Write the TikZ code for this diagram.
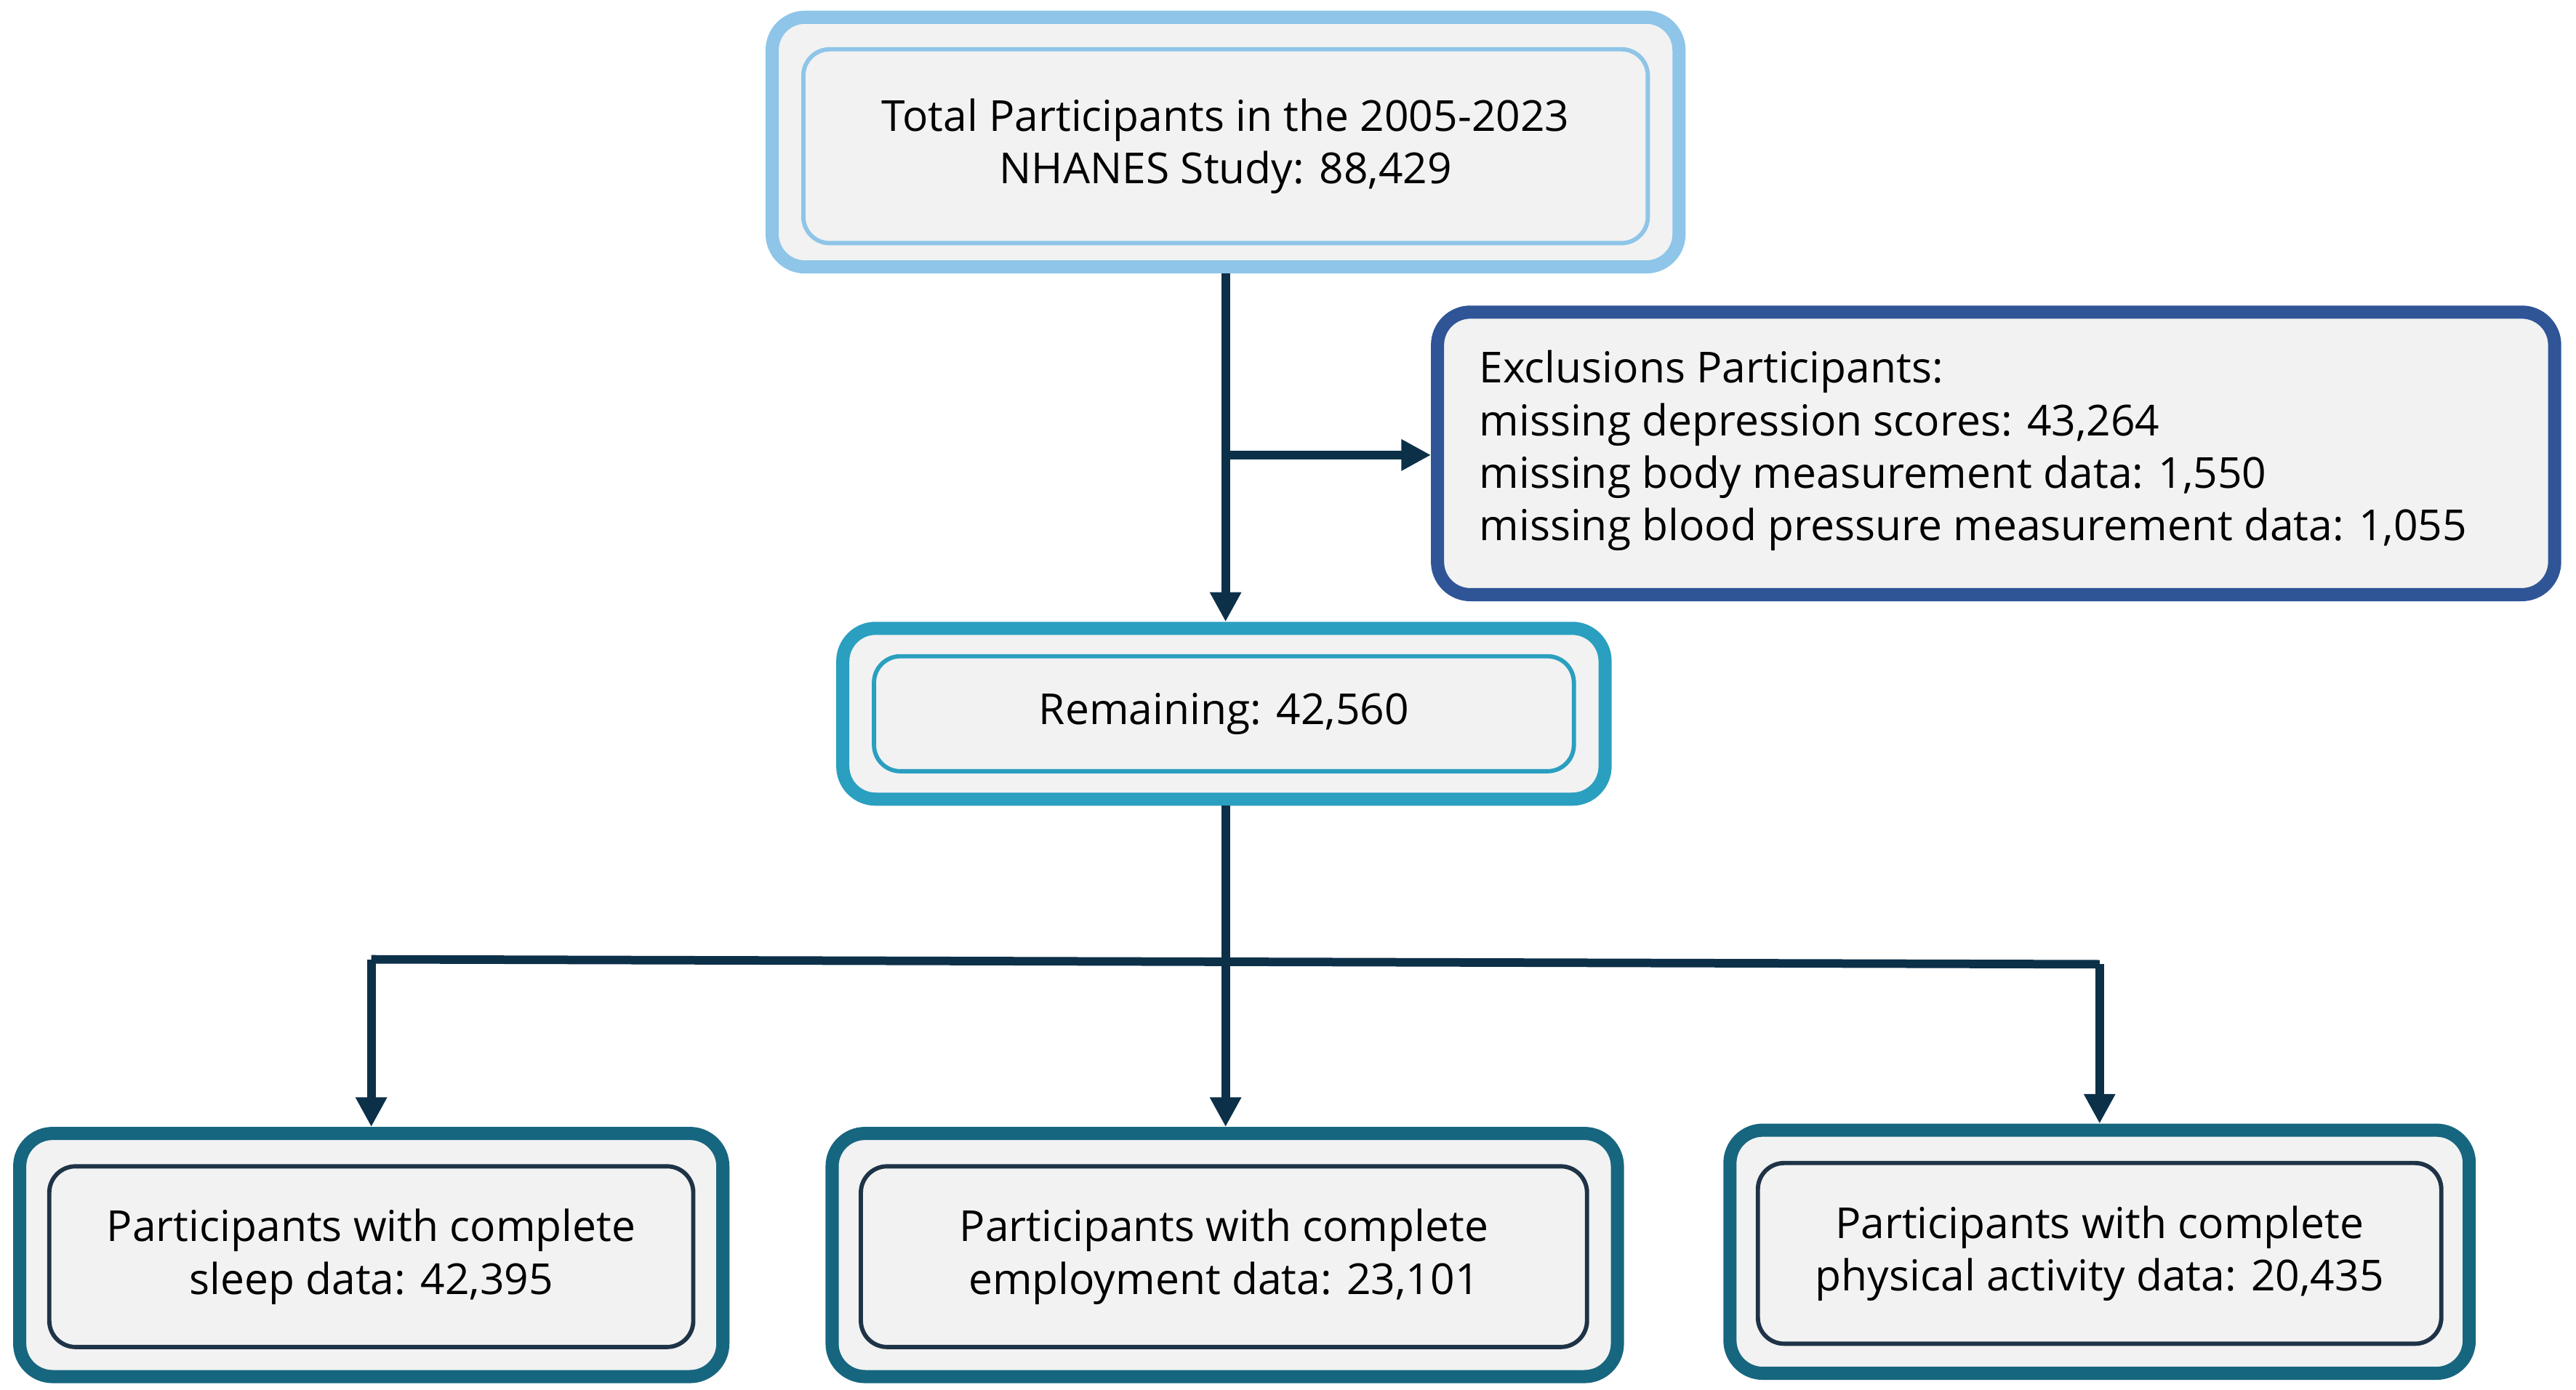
\documentclass[tikz,border=0pt]{standalone}
\usepackage{fontspec}
\setmainfont{Open Sans}
\usetikzlibrary{arrows.meta}
\definecolor{bgray}{HTML}{F2F2F2}
\definecolor{lblue}{HTML}{8EC5E8}
\definecolor{dblue}{HTML}{2F5597}
\definecolor{teal1}{HTML}{2A9FC0}
\definecolor{teal2}{HTML}{17667F}
\definecolor{navy}{HTML}{1F3347}
\definecolor{arr}{HTML}{0D3049}
\tikzset{
 outerbox/.style={draw=#1, line width=4pt, fill=bgray, rounded corners=10pt, inner sep=0pt},
 innerbox/.style={draw=#1, line width=1.3pt, fill=bgray, rounded corners=8pt, align=center, inner sep=0pt, font=\fontsize{13}{16}\selectfont},
 conn/.style={draw=arr, line width=2.6pt},
 tip/.style={conn, -{Triangle[length=9pt,width=9pt]}}
}
\begin{document}
\begin{tikzpicture}[x=0.5pt,y=-0.5pt]
\useasboundingbox (0,0) rectangle (1568,846);
% top
\node[outerbox=lblue, minimum width=276pt, minimum height=76pt] (t) at (746,86.5) {};
\node[innerbox=lblue, minimum width=257pt, minimum height=59pt] (ti) at (746,89) {Total Participants in the 2005-2023\\NHANES Study: 88,429};
% exclusion
\node[outerbox=dblue, minimum width=340pt, minimum height=86pt, align=left, font=\fontsize{13}{16}\selectfont, anchor=center] (e) at (1215,276) {};
\node[anchor=north west, align=left, font=\fontsize{13}{16}\selectfont, inner sep=0pt] (et) at (900,213) {Exclusions Participants:\\missing depression scores: 43,264\\missing body measurement data: 1,550\\missing blood pressure measurement data: 1,055};
% remaining
\node[outerbox=teal1, minimum width=232pt, minimum height=52pt] (r) at (745,434.5) {};
\node[innerbox=teal1, minimum width=213pt, minimum height=35pt] (ri) at (745,434.5) {Remaining: 42,560};
% bottom
\node[outerbox=teal2, minimum width=214pt, minimum height=74pt] (b1) at (226,764) {};
\node[innerbox=navy, minimum width=196pt, minimum height=55pt] (b1i) at (226,765) {Participants with complete\\sleep data: 42,395};
\node[outerbox=teal2, minimum width=239pt, minimum height=74pt] (b2) at (745.5,764) {};
\node[innerbox=navy, minimum width=221pt, minimum height=55pt] (b2i) at (745,765) {Participants with complete\\employment data: 23,101};
\node[outerbox=teal2, minimum width=225pt, minimum height=74pt] (b3) at (1278,762) {};
\node[innerbox=navy, minimum width=208pt, minimum height=55pt] (b3i) at (1278,763) {Participants with complete\\physical activity data: 20,435};
% connectors
\coordinate (j1) at (746,277);
\coordinate (j2) at (746,584);
\coordinate (l) at (226,584);
\coordinate (rr) at (1278,587);
\draw[tip] (t.south -| j1) -- (r.north -| j1);
\draw[tip] (j1) -- (e.west |- j1);
\draw[conn] (r.south -| j2) -- (j2);
\draw[conn] (l) -- (rr);
\draw[tip] (l) -- (b1.north);
\draw[tip] (j2) -- (b2.north -| j2);
\draw[tip] (rr) -- (b3.north);
\end{tikzpicture}
\end{document}
